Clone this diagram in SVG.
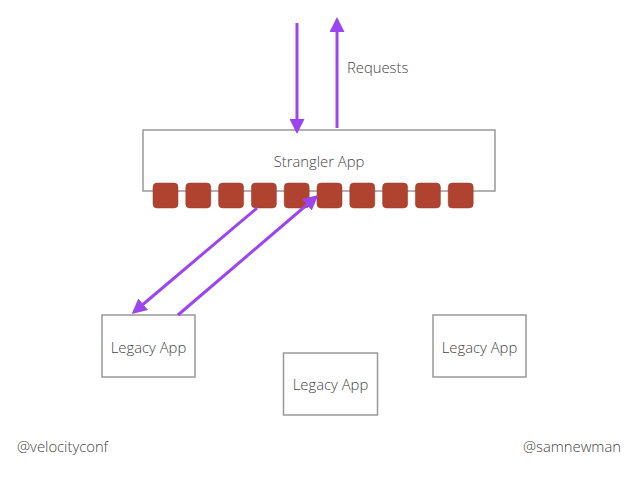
<svg xmlns="http://www.w3.org/2000/svg" width="638" height="479" viewBox="0 0 638 479">
<defs>
<style>
.box{fill:#fff;stroke:#999;stroke-width:1.5}
.lbl{font-family:"Open Sans","Liberation Sans",sans-serif;font-weight:300;font-size:14.8px;fill:#444}
.sq{fill:#b0432f;stroke:#9a3a28;stroke-width:0.5}
.arr{stroke:#9b45f0;stroke-width:3;fill:none;marker-end:url(#ah)}
</style>
<marker id="ah" viewBox="0 0 10 10" refX="8" refY="5" markerWidth="5" markerHeight="5" markerUnits="strokeWidth" orient="auto">
<path d="M0,0 L10,5 L0,10 z" fill="#9b45f0"/>
</marker>
</defs>
<rect width="638" height="479" fill="#fff"/>
<g id="strangler">
<rect class="box" x="143" y="130" width="352" height="61"/>
<text class="lbl" x="319" y="167" text-anchor="middle">Strangler App</text>
<rect class="sq" x="153" y="183" width="25" height="25" rx="4"/>
<rect class="sq" x="185.8" y="183" width="25" height="25" rx="4"/>
<rect class="sq" x="218.6" y="183" width="25" height="25" rx="4"/>
<rect class="sq" x="251.4" y="183" width="25" height="25" rx="4"/>
<rect class="sq" x="284.2" y="183" width="25" height="25" rx="4"/>
<rect class="sq" x="317" y="183" width="25" height="25" rx="4"/>
<rect class="sq" x="349.8" y="183" width="25" height="25" rx="4"/>
<rect class="sq" x="382.6" y="183" width="25" height="25" rx="4"/>
<rect class="sq" x="415.4" y="183" width="25" height="25" rx="4"/>
<rect class="sq" x="448.2" y="183" width="25" height="25" rx="4"/>
</g>
<g id="legacy1">
<rect class="box" x="102" y="315" width="93" height="62"/>
<text class="lbl" x="148.5" y="353" text-anchor="middle">Legacy App</text>
</g>
<g id="legacy2">
<rect class="box" x="283.5" y="353" width="94" height="62"/>
<text class="lbl" x="330.5" y="390" text-anchor="middle">Legacy App</text>
</g>
<g id="legacy3">
<rect class="box" x="433" y="315" width="93" height="62"/>
<text class="lbl" x="479.5" y="353" text-anchor="middle">Legacy App</text>
</g>
<g id="connectors">
<line class="arr" x1="297" y1="23" x2="297" y2="131"/>
<line class="arr" x1="337" y1="128" x2="337" y2="20"/>
<line class="arr" x1="257" y1="208" x2="134" y2="312"/>
<line class="arr" x1="178" y1="315" x2="316" y2="197"/>
</g>
<text class="lbl" x="347" y="73">Requests</text>
<text class="lbl" x="17" y="452">@velocityconf</text>
<text class="lbl" x="621" y="452" text-anchor="end">@samnewman</text>
</svg>
